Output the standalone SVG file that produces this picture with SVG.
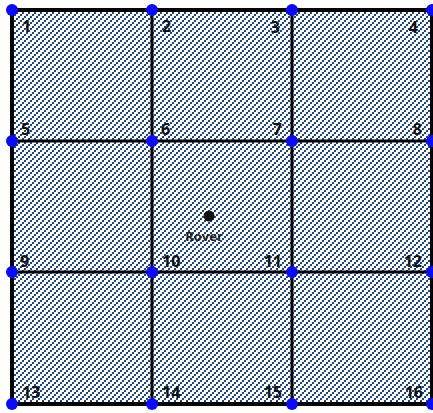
<svg xmlns="http://www.w3.org/2000/svg" width="433" height="413" viewBox="0 0 433 413">
<style>
.num{font-family:"Open Sans","Liberation Sans",sans-serif;font-weight:700;font-size:16px;fill:#111}
.end{text-anchor:end}
.rover{font-family:"Open Sans","Liberation Sans",sans-serif;font-weight:700;font-size:13px;fill:#222}
.grid{stroke:#000;stroke-width:3;fill:none}
.outer{stroke:#000;stroke-width:4;fill:none}
.pt{fill:#0a0aff}
</style>
<defs>
<pattern id="hatch" patternUnits="userSpaceOnUse" x="0" y="0" width="6" height="6">
<rect width="6" height="6" fill="#fff"/>
<g fill="#1c4585" shape-rendering="crispEdges">
<rect x="4" y="0" width="2" height="2"/>
<rect x="2" y="2" width="2" height="2"/>
<rect x="0" y="4" width="2" height="2"/>
<rect x="5" y="1" width="1" height="1"/>
<rect x="3" y="3" width="1" height="1"/>
<rect x="1" y="5" width="1" height="1"/>
</g>
</pattern>
</defs>
<rect width="433" height="413" fill="#fff"/>
<rect x="12" y="10" width="420" height="394" fill="url(#hatch)"/>
<g id="connectors">
<line class="grid" x1="152" y1="10" x2="152" y2="404"/>
<line class="grid" x1="292" y1="10" x2="292" y2="404"/>
<line class="grid" x1="12" y1="141" x2="432" y2="141"/>
<line class="grid" x1="12" y1="272" x2="432" y2="272"/>
<rect class="outer" x="12" y="10" width="420" height="394"/>
</g>
<g id="n1"><circle class="pt" cx="12" cy="10" r="6"/><text class="num" x="22" y="32">1</text></g>
<g id="n2"><circle class="pt" cx="152" cy="10" r="6"/><text class="num" x="162" y="32">2</text></g>
<g id="n3"><circle class="pt" cx="292" cy="10" r="6"/><text class="num end" x="280" y="33">3</text></g>
<g id="n4"><circle class="pt" cx="432" cy="10" r="6"/><text class="num end" x="418" y="33">4</text></g>
<g id="n5"><circle class="pt" cx="12" cy="141" r="6"/><text class="num" x="21" y="135">5</text></g>
<g id="n6"><circle class="pt" cx="152" cy="141" r="6"/><text class="num" x="161" y="135">6</text></g>
<g id="n7"><circle class="pt" cx="292" cy="141" r="6"/><text class="num end" x="282" y="135">7</text></g>
<g id="n8"><circle class="pt" cx="432" cy="141" r="6"/><text class="num end" x="422" y="135">8</text></g>
<g id="n9"><circle class="pt" cx="12" cy="272" r="6"/><text class="num" x="20" y="267">9</text></g>
<g id="n10"><circle class="pt" cx="152" cy="272" r="6"/><text class="num" x="162" y="267">10</text></g>
<g id="n11"><circle class="pt" cx="292" cy="272" r="6"/><text class="num end" x="282" y="267">11</text></g>
<g id="n12"><circle class="pt" cx="432" cy="272" r="6"/><text class="num end" x="422" y="267">12</text></g>
<g id="n13"><circle class="pt" cx="12" cy="404" r="6"/><text class="num" x="22" y="398">13</text></g>
<g id="n14"><circle class="pt" cx="152" cy="404" r="6"/><text class="num" x="162" y="398">14</text></g>
<g id="n15"><circle class="pt" cx="292" cy="404" r="6"/><text class="num end" x="282" y="398">15</text></g>
<g id="n16"><circle class="pt" cx="432" cy="404" r="6"/><text class="num end" x="423" y="398">16</text></g>
<g id="rover"><circle cx="209" cy="216" r="5.5" fill="#111"/><text class="rover" x="204" y="241" text-anchor="middle">Rover</text></g>
</svg>
